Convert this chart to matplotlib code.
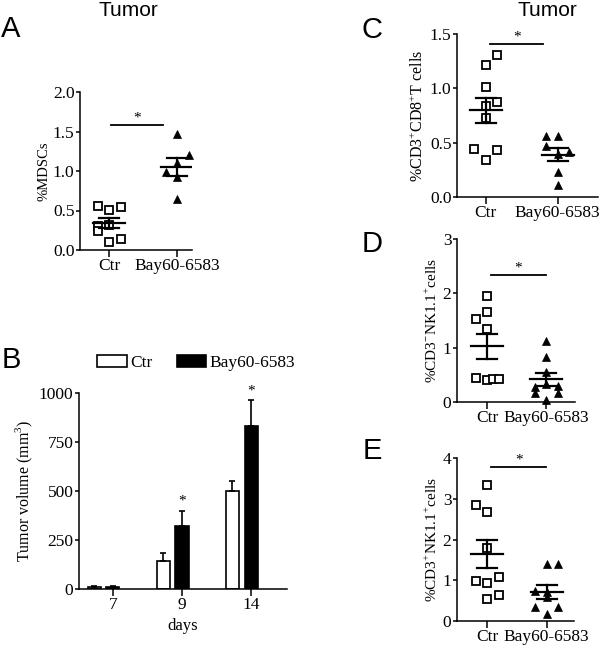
import numpy as np
import matplotlib
matplotlib.use("Agg")
import matplotlib.pyplot as plt

plt.rcParams['font.family'] = ['Liberation Serif', 'DejaVu Serif']
plt.rcParams['mathtext.fontset'] = 'custom'
plt.rcParams['mathtext.rm'] = 'Liberation Serif'
plt.rcParams['axes.linewidth'] = 1.1

# ---- data ----
groups = ["Ctr", "Bay60-6583"]

mdsc_ctr = [0.56, 0.51, 0.55, 0.30, 0.32, 0.24, 0.10, 0.135]
mdsc_bay = [1.47, 1.20, 0.99, 1.10, 0.93, 0.64]

cd8_ctr = [1.31, 1.215, 1.016, 0.87, 0.84, 0.725, 0.44, 0.43, 0.34]
cd8_bay = [0.56, 0.56, 0.465, 0.41, 0.40, 0.23, 0.107]

nk_ctr = [1.96, 1.66, 1.52, 1.34, 0.44, 0.40, 0.43, 0.43]
nk_bay = [1.13, 0.82, 0.55, 0.34, 0.28, 0.29, 0.17, 0.17, 0.04]

nkt_ctr = [3.33, 2.84, 2.67, 1.79, 1.07, 0.97, 0.93, 0.64, 0.53]
nkt_bay = [1.40, 1.40, 0.74, 0.70, 0.60, 0.35, 0.35, 0.17]

days = ["7", "9", "14"]
vol_ctr = [10, 144, 498]
vol_ctr_err = [4, 42, 52]
vol_bay = [11, 322, 832]
vol_bay_err = [4, 78, 132]

# horizontal slot of each point (layout only)
mdsc_ctr_slot = [-1, 0, 1, -1, 0, -1, 0, 1]
mdsc_bay_slot = [0, 1, -1, 0, 0, 0]
cd8_ctr_slot = [1, 0, 0, 1, 0, 0, -1, 1, 0]
cd8_bay_slot = [-1, 0, -1, 1, 0, 0, 0]
nk_ctr_slot = [0, 0, -1, 0, -1, 0, 0.5, 1]
nk_bay_slot = [0, 0, 0, 0, -1, 1, -1, 1, 0]
nkt_ctr_slot = [0, -1, 0, 0, 1, -1, 0, 1, 0]
nkt_bay_slot = [0, 1, -1, 0, 0, -1, 1, 0]

W, H = 600, 646
TICK_FS = 12.5
fig = plt.figure(figsize=(W / 100, H / 100), dpi=100)


def px_axes(left, right, top, bottom):
    return fig.add_axes([left / W, 1 - bottom / H, (right - left) / W, (bottom - top) / H])


def scatter_panel(ax, ctr, bay, ctr_slot, bay_slot, xlim, ymax, yticks, fmt, ylabel,
                  ylabel_size, sig_x, sig_y):
    ax.set_xlim(*xlim)
    ax.set_ylim(0, ymax)
    ax_px = ax.get_position().width * W
    ppu = ax_px / (xlim[1] - xlim[0])
    dx = 11.5 / ppu
    half_mean = 16 / ppu
    half_sem = 10 / ppu
    for i, (vals, slots) in enumerate([(ctr, ctr_slot), (bay, bay_slot)]):
        v = np.array(vals)
        x = i + np.array(slots) * dx
        if i == 0:
            ax.plot(x, v, 's', ms=5.5, mfc='white', mec='black', mew=1.3, clip_on=False, zorder=3)
        else:
            ax.plot(x, v, '^', ms=6, mfc='black', mec='black', mew=0.5, clip_on=False, zorder=3)
        m = v.mean()
        s = v.std(ddof=1) / np.sqrt(len(v))
        ax.plot([i - half_mean, i + half_mean], [m, m], color='black', lw=1.6, zorder=4)
        ax.plot([i - half_sem, i + half_sem], [m + s, m + s], color='black', lw=1.6, zorder=4)
        ax.plot([i - half_sem, i + half_sem], [m - s, m - s], color='black', lw=1.6, zorder=4)
        ax.plot([i, i], [m - s, m + s], color='black', lw=1.6, zorder=4)
    ax.plot(sig_x, [sig_y, sig_y], color='black', lw=1.3)
    ax.text(np.mean(sig_x), sig_y, "*", ha='center', va='bottom', fontsize=11)
    ax.set_xticks([0, 1])
    ax.set_xticklabels(groups, fontsize=TICK_FS)
    ax.set_yticks(yticks)
    ax.set_yticklabels([fmt.format(t) for t in yticks], fontsize=TICK_FS)
    ax.tick_params(axis='x', length=5, width=1.1, pad=1)
    ax.tick_params(axis='y', length=3, width=1.1, pad=1)
    ax.spines['top'].set_visible(False)
    ax.spines['right'].set_visible(False)
    ax.set_ylabel(ylabel, fontsize=ylabel_size, labelpad=2)


# panel A
ax_a = px_axes(80, 192, 92, 250)
scatter_panel(ax_a, mdsc_ctr, mdsc_bay, mdsc_ctr_slot, mdsc_bay_slot, (-0.43, 1.22), 2.0,
              [0, 0.5, 1.0, 1.5, 2.0], "{:.1f}", "%MDSCs", 10.5, (0.03, 0.79), 1.585)

# panel C
ax_c = px_axes(457, 598, 34, 197)
scatter_panel(ax_c, cd8_ctr, cd8_bay, cd8_ctr_slot, cd8_bay_slot, (-0.40, 1.56), 1.5,
              [0, 0.5, 1.0, 1.5], "{:.1f}", r"%CD3$^{+}$CD8$^{+}$T cells", 11.5, (0.06, 0.80), 1.41)

# panel D
ax_d = px_axes(457, 575, 239, 402)
scatter_panel(ax_d, nk_ctr, nk_bay, nk_ctr_slot, nk_bay_slot, (-0.51, 1.49), 3,
              [0, 1, 2, 3], "{:d}", r"%CD3$^{-}$NK1.1$^{+}$cells", 11, (0.06, 1.0), 2.34)

# panel E
ax_e = px_axes(457, 574, 458, 621)
scatter_panel(ax_e, nkt_ctr, nkt_bay, nkt_ctr_slot, nkt_bay_slot, (-0.51, 1.46), 4,
              [0, 1, 2, 3, 4], "{:d}", r"%CD3$^{+}$NK1.1$^{+}$cells", 11, (0.06, 0.995), 3.78)

# panel B
ax_b = px_axes(79, 287, 393, 589)
pos = np.arange(len(days))
bw = 0.19
off = 0.27
ax_b.bar(pos - off, vol_ctr, bw, yerr=[np.zeros(3), vol_ctr_err], color='white', edgecolor='black',
         linewidth=1.2, capsize=2.5, error_kw=dict(elinewidth=1.2, capthick=1.2), label="Ctr")
ax_b.bar(pos, vol_bay, bw, yerr=[np.zeros(3), vol_bay_err], color='black', edgecolor='black',
         linewidth=1.2, capsize=2.5, error_kw=dict(elinewidth=1.2, capthick=1.2), label="Bay60-6583")
for i in [1, 2]:
    ax_b.text(pos[i], vol_bay[i] + vol_bay_err[i] + 15, "*", ha='center', va='bottom', fontsize=11)
ax_b.set_xlim(-0.49, 2.52)
ax_b.set_ylim(0, 1000)
ax_b.set_xticks(pos)
ax_b.set_xticklabels(days, fontsize=TICK_FS)
ax_b.set_yticks([0, 250, 500, 750, 1000])
ax_b.set_yticklabels(["0", "250", "500", "750", "1000"], fontsize=TICK_FS)
ax_b.tick_params(axis='x', length=5, width=1.1, pad=1)
ax_b.tick_params(axis='y', length=3, width=1.1, pad=1)
ax_b.spines['top'].set_visible(False)
ax_b.spines['right'].set_visible(False)
ax_b.set_ylabel(r"Tumor volume (mm$^{3}$)", fontsize=11.5, labelpad=3)
ax_b.set_xlabel("days", fontsize=12, labelpad=3)
ax_b.legend(loc='lower left', bbox_to_anchor=(97 / W, 1 - 371 / H), bbox_transform=fig.transFigure,
            ncol=2, frameon=False, fontsize=12.5, handlelength=1.7, handleheight=0.65,
            handletextpad=0.2, columnspacing=1.4, borderpad=0, borderaxespad=0)

# letters and titles
sans = ['Liberation Sans', 'DejaVu Sans']
fig.text(128 / W, 1 - 10 / H, "Tumor", family=sans, fontsize=15, ha='center', va='center')
fig.text(547 / W, 1 - 10 / H, "Tumor", family=sans, fontsize=15, ha='center', va='center')
for letter, x, y in [("A", 11, 29), ("B", 11, 360), ("C", 372, 30), ("D", 372, 244), ("E", 372, 451)]:
    fig.text(x / W, 1 - y / H, letter, family=sans, fontsize=21, ha='center', va='center')

fig.savefig("out.png", dpi=100)
